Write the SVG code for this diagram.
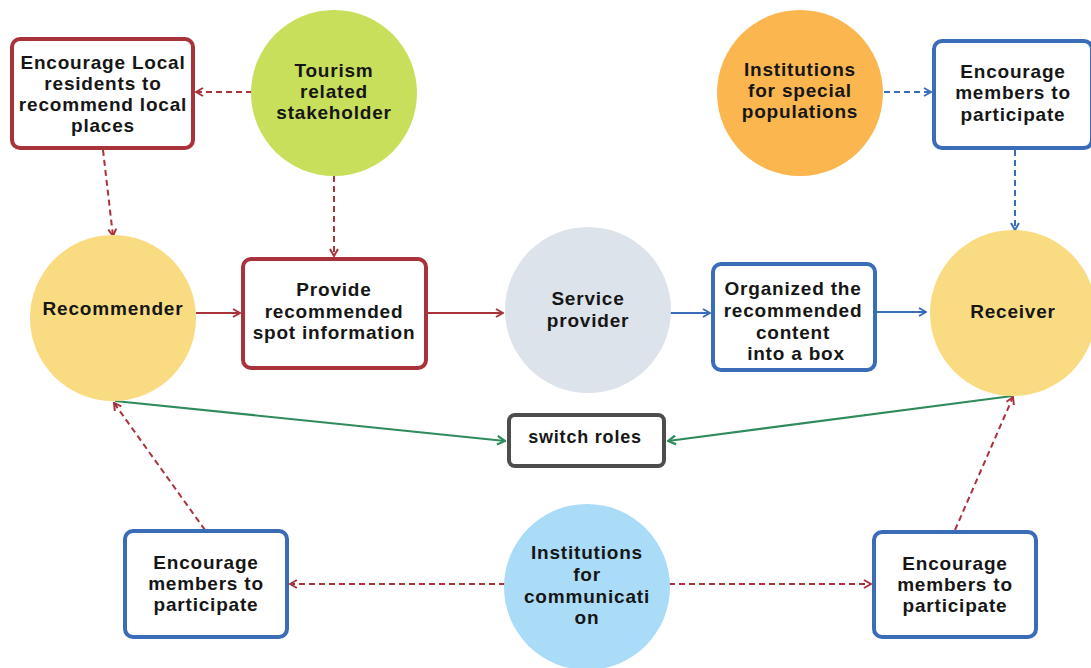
<svg xmlns="http://www.w3.org/2000/svg" width="1091" height="668" viewBox="0 0 1091 668">
  <defs>
    <style>
      text { font-family: "Liberation Sans", Arial, sans-serif; font-weight: bold; font-size: 19px; letter-spacing: 0.8px; fill: #161616; text-anchor: middle; }
      .box-red { fill: #ffffff; stroke: #a9333a; stroke-width: 4; }
      .box-blue { fill: #ffffff; stroke: #3b6cb7; stroke-width: 4; }
      .box-gray { fill: #ffffff; stroke: #4d4d4d; stroke-width: 4; }
      .red { stroke: #a9333a; stroke-width: 2; fill: none; }
      .blue { stroke: #3b6cb7; stroke-width: 2; fill: none; }
      .green { stroke: #2f8a5c; stroke-width: 2.2; fill: none; }
      .dash { stroke-dasharray: 6 4; }
    </style>
    <marker id="ah-red" viewBox="0 0 10 10" refX="9" refY="5" markerWidth="10" markerHeight="10" markerUnits="userSpaceOnUse" orient="auto">
      <path d="M2,1 L9,5 L2,9" fill="none" stroke="#a9333a" stroke-width="2"/>
    </marker>
    <marker id="ah-blue" viewBox="0 0 10 10" refX="9" refY="5" markerWidth="10" markerHeight="10" markerUnits="userSpaceOnUse" orient="auto">
      <path d="M2,1 L9,5 L2,9" fill="none" stroke="#3b6cb7" stroke-width="2"/>
    </marker>
    <marker id="ah-green" viewBox="0 0 10 10" refX="9" refY="5" markerWidth="11" markerHeight="11" markerUnits="userSpaceOnUse" orient="auto">
      <path d="M2,1 L9,5 L2,9" fill="none" stroke="#2f8a5c" stroke-width="2"/>
    </marker>
  </defs>

  <rect width="1091" height="668" fill="#ffffff"/>

  <!-- connectors -->
  <g id="connectors">
    <line class="red dash" x1="252" y1="92" x2="196" y2="92" marker-end="url(#ah-red)"/>
    <line class="red dash" x1="103" y1="150" x2="113" y2="236" marker-end="url(#ah-red)"/>
    <line class="red dash" x1="334" y1="176" x2="334" y2="256" marker-end="url(#ah-red)"/>
    <line class="red" x1="196" y1="313" x2="240" y2="313" marker-end="url(#ah-red)"/>
    <line class="red" x1="427" y1="313" x2="503" y2="313" marker-end="url(#ah-red)"/>
    <line class="blue" x1="670" y1="313" x2="710" y2="313" marker-end="url(#ah-blue)"/>
    <line class="blue" x1="876" y1="312" x2="926" y2="312" marker-end="url(#ah-blue)"/>
    <line class="blue dash" x1="884" y1="92" x2="931" y2="92" marker-end="url(#ah-blue)"/>
    <line class="blue dash" x1="1015" y1="150" x2="1015" y2="230" marker-end="url(#ah-blue)"/>
    <line class="green" x1="115" y1="401" x2="505" y2="441" marker-end="url(#ah-green)"/>
    <line class="green" x1="1012" y1="396" x2="668" y2="441" marker-end="url(#ah-green)"/>
    <line class="red dash" x1="205" y1="530" x2="114" y2="403" marker-end="url(#ah-red)"/>
    <line class="red dash" x1="955" y1="530" x2="1013" y2="397" marker-end="url(#ah-red)"/>
    <line class="red dash" x1="505" y1="584" x2="290" y2="584" marker-end="url(#ah-red)"/>
    <line class="red dash" x1="669" y1="584" x2="871" y2="584" marker-end="url(#ah-red)"/>
  </g>

  <!-- nodes -->
  <g id="encourage-local">
    <rect class="box-red" x="12" y="39" width="181" height="109" rx="8"/>
    <text x="103" y="69">Encourage Local</text>
    <text x="103" y="90">residents to</text>
    <text x="103" y="111">recommend local</text>
    <text x="103" y="132">places</text>
  </g>

  <g id="tourism-stakeholder">
    <circle cx="334" cy="93" r="83" fill="#c8df5b"/>
    <text x="334" y="77">Tourism</text>
    <text x="334" y="98">related</text>
    <text x="334" y="119">stakeholder</text>
  </g>

  <g id="special-populations">
    <circle cx="800" cy="93" r="83" fill="#fbb650"/>
    <text x="800" y="76">Institutions</text>
    <text x="800" y="97">for special</text>
    <text x="800" y="118">populations</text>
  </g>

  <g id="encourage-top-right">
    <rect class="box-blue" x="934" y="41" width="158" height="107" rx="8"/>
    <text x="1013" y="78">Encourage</text>
    <text x="1013" y="99">members to</text>
    <text x="1013" y="121">participate</text>
  </g>

  <g id="recommender">
    <circle cx="113" cy="318" r="83" fill="#f9dc82"/>
    <text x="113" y="315">Recommender</text>
  </g>

  <g id="provide-info">
    <rect class="box-red" x="243" y="259" width="183" height="109" rx="8"/>
    <text x="334" y="296">Provide</text>
    <text x="334" y="318">recommended</text>
    <text x="334" y="339">spot information</text>
  </g>

  <g id="service-provider">
    <circle cx="588" cy="310" r="83" fill="#dde3ea"/>
    <text x="588" y="305">Service</text>
    <text x="588" y="327">provider</text>
  </g>

  <g id="organized-box">
    <rect class="box-blue" x="713" y="264" width="162" height="106" rx="8"/>
    <text x="793" y="295">Organized the</text>
    <text x="793" y="317">recommended</text>
    <text x="793" y="339">content</text>
    <text x="796" y="360">into a box</text>
  </g>

  <g id="receiver">
    <circle cx="1013" cy="313" r="83" fill="#f9dc82"/>
    <text x="1013" y="318">Receiver</text>
  </g>

  <g id="switch-roles">
    <rect class="box-gray" x="509" y="415" width="155" height="51" rx="6"/>
    <text x="585" y="443" style="font-size:18px">switch roles</text>
  </g>

  <g id="encourage-bottom-left">
    <rect class="box-blue" x="125" y="531" width="162" height="106" rx="8"/>
    <text x="206" y="569">Encourage</text>
    <text x="206" y="590">members to</text>
    <text x="206" y="611">participate</text>
  </g>

  <g id="communication">
    <circle cx="587" cy="587" r="83" fill="#aadcf8"/>
    <text x="587" y="559">Institutions</text>
    <text x="587" y="581">for</text>
    <text x="587" y="603">communicati</text>
    <text x="587" y="624">on</text>
  </g>

  <g id="encourage-bottom-right">
    <rect class="box-blue" x="874" y="532" width="162" height="105" rx="8"/>
    <text x="955" y="570">Encourage</text>
    <text x="955" y="591">members to</text>
    <text x="955" y="612">participate</text>
  </g>
</svg>
